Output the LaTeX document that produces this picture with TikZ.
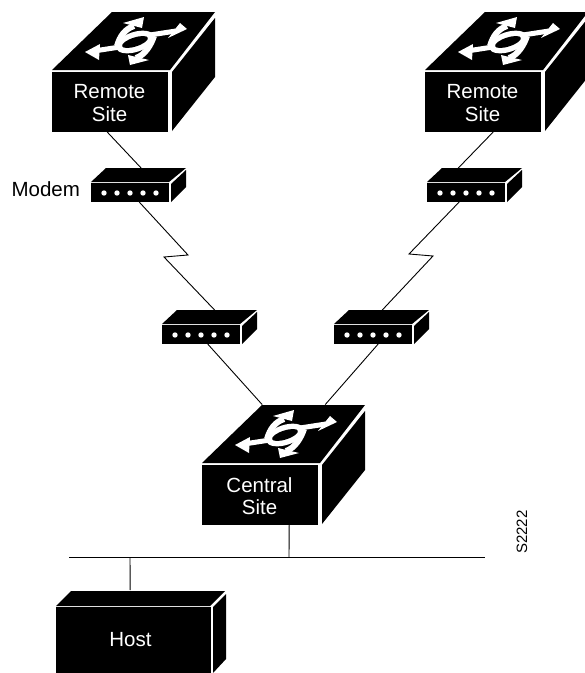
\documentclass[tikz,border=0pt]{standalone}
\usepackage{fontspec}
\setmainfont{Liberation Sans}
\usetikzlibrary{calc, positioning}

\tikzset{
    wire/.style={line width=0.9pt, black},
    label text/.style={font=\fontsize{20.5}{22.5}\selectfont, align=center},
    front box/.style={fill=black, inner sep=0pt, anchor=south west},
    glyph bar/.style={white, line width=6pt}
}

\newcommand{\switchbox}[4]{
    \begin{scope}[shift={(#2,#3)}]
        \fill (0,-62) -- (60,-120) -- (163,-120) -- (118,-62) -- cycle;
        \fill (120,-60) -- (163,-114) -- (163,-55) -- (120,-1) -- cycle;
        \node[front box, minimum width=116pt, minimum height=60pt] (#1) at (0,0) {};
        \node[label text, text=white] (#1text) at (57.5,-29) {#4};
        \fill[white, shift={(83,-90)}, rotate=18] (0,0) ellipse [x radius=20, y radius=10];
        \fill[black, shift={(83,-90)}, rotate=18] (0,0) ellipse [x radius=13.5, y radius=4.5];
        \draw[glyph bar, line width=5pt] (42,-81) -- (68,-85);
        \fill[white] (33,-80) -- (48,-88) -- (47,-72) -- cycle;
        \draw[glyph bar, line width=5pt] (98,-97) -- (124,-101);
        \fill[white] (135,-103) -- (128,-109) -- (116,-94) -- cycle;
        \draw[glyph bar] (82,-106) .. controls (73,-103) and (68,-96) .. (65,-86);
        \fill[white] (92,-115) -- (71,-109) -- (90,-104) -- cycle;
        \draw[glyph bar] (84,-74) .. controls (93,-77) and (99,-87) .. (102,-96);
        \fill[white] (78,-67) -- (76,-77) -- (97,-72) -- cycle;
    \end{scope}
}

\newcommand{\modembox}[3]{
    \begin{scope}[shift={(#2,#3)}]
        \fill (0,-20) -- (15,-34) -- (95,-34) -- (78,-20) -- cycle;
        \fill (80,0) -- (95,-15) -- (95,-32) -- (80,-18) -- cycle;
        \node[front box, minimum width=78pt, minimum height=18.5pt] (#1) at (0,0) {};
        \foreach \x in {13,26,39,52,65} {
            \fill[white] (\x,-9) circle (2.7);
        }
    \end{scope}
}

\begin{document}
\begin{tikzpicture}[x=1pt, y=-1pt]
    \useasboundingbox (0,0) rectangle (585,673);
    \clip (0,0) rectangle (585,673);

    \switchbox{remoteA}{52}{132}{Remote\\Site}
    \switchbox{remoteB}{425}{132}{Remote\\Site}
    \switchbox{central}{202}{525}{Central\\Site}

    \modembox{modemA}{91}{202}
    \modembox{modemB}{427}{202}
    \modembox{modemC}{162}{344}
    \modembox{modemD}{334}{344}

    \fill (56,606) -- (71,591) -- (225,591) -- (210,606) -- cycle;
    \fill (213,607) -- (226,594) -- (226,659) -- (213,673) -- cycle;
    \node[front box, minimum width=155pt, minimum height=66pt] (host) at (56,673) {};
    \node[label text, text=white] (hosttext) at (130.5,640) {Host};

    \node[label text, anchor=east] (modemlabel) at (83.5,189) {Modem};
    \node[font=\fontsize{15}{15}\selectfont, rotate=90] (figid) at (522,532) {S2222};

    \coordinate (busL) at (69,557);
    \coordinate (busR) at (485,557);
    \coordinate (busC) at (289,557);
    \coordinate (busH) at (130,557);

    \coordinate (kneeA) at (188,255);
    \coordinate (kneeB) at (164,257);
    \coordinate (kneeC) at (409,254);
    \coordinate (kneeD) at (433,256);

    \draw[wire] (busL) -- (busR);
    \draw[wire] (busC) -- ([xshift=29pt]central.south);
    \draw[wire] (busH) -- ([xshift=-3.5pt,yshift=16.5pt]host.north);

    \draw[wire] ([xshift=-3pt]remoteA.south) -- ([xshift=11pt,yshift=15pt]modemA.north);
    \draw[wire] ([xshift=10pt]remoteB.south) -- ([xshift=-8pt,yshift=15pt]modemB.north);
    \draw[wire] ([xshift=9pt]modemA.south) -- (kneeA) -- (kneeB) -- ([xshift=13.5pt,yshift=15pt]modemC.north);
    \draw[wire] ([xshift=-7pt]modemB.south) -- (kneeC) -- (kneeD) -- ([xshift=9pt,yshift=15pt]modemD.north);
    \draw[wire] ([xshift=6.5pt]modemC.south) -- ([xshift=2pt,yshift=60pt]central.north);
    \draw[wire] ([xshift=5pt]modemD.south) -- ([xshift=65pt,yshift=60pt]central.north);
\end{tikzpicture}
\end{document}
